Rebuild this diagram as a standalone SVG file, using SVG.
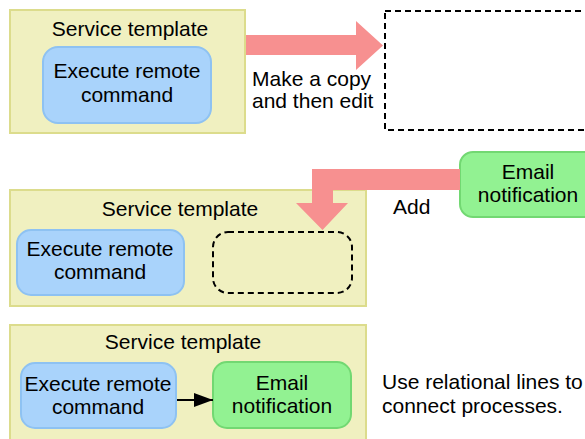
<svg xmlns="http://www.w3.org/2000/svg" width="585" height="439" viewBox="0 0 585 439">
<defs>
<style>
text{font-family:"Liberation Sans",Arial,sans-serif;font-size:21px;fill:#000;}
.tpl{fill:#f0f0c0;stroke:#dcdc8c;stroke-width:2;}
.blue{fill:#a9d3fb;stroke:#8ec2f2;stroke-width:2;}
.green{fill:#92f292;stroke:#72d872;stroke-width:2;}
.dash{fill:none;stroke:#000;stroke-width:2;stroke-dasharray:6,4;}
.big{fill:#f79090;}
.mid{text-anchor:middle;}
</style>
<marker id="ah" viewBox="0 0 19 14" refX="19" refY="7" markerWidth="19" markerHeight="14" markerUnits="userSpaceOnUse" orient="auto">
<path d="M0,0 L19,7 L0,14 z" fill="#000"/>
</marker>
</defs>
<rect width="585" height="439" fill="#fff"/>

<g id="template1">
<rect class="tpl" x="10" y="10" width="235" height="123"/>
<text class="mid" x="130" y="36">Service template</text>
</g>
<g id="exec1">
<rect class="blue" x="43" y="47" width="168" height="76" rx="15"/>
<text class="mid" x="127" y="78">Execute remote</text>
<text class="mid" x="127" y="102">command</text>
</g>
<g id="copy">
<rect class="dash" x="385" y="11" width="230" height="119"/>
</g>

<g id="email1">
<rect class="green" x="460" y="152" width="150" height="65" rx="13"/>
<text class="mid" x="528" y="179">Email</text>
<text class="mid" x="528" y="202">notification</text>
</g>

<g id="template2">
<rect class="tpl" x="10" y="190" width="356" height="116"/>
<text class="mid" x="180" y="216">Service template</text>
</g>
<g id="exec2">
<rect class="blue" x="17" y="230" width="167" height="65" rx="14"/>
<text class="mid" x="100" y="256">Execute remote</text>
<text class="mid" x="100" y="279">command</text>
</g>
<g id="placeholder">
<rect class="dash" x="213" y="232" width="139" height="61" rx="15"/>
</g>

<g id="template3">
<rect class="tpl" x="10" y="325" width="356" height="130"/>
<text class="mid" x="183" y="349">Service template</text>
</g>
<g id="exec3">
<rect class="blue" x="21" y="363" width="155" height="65" rx="14"/>
<text class="mid" x="98" y="391">Execute remote</text>
<text class="mid" x="98" y="414">command</text>
</g>
<g id="email3">
<rect class="green" x="213" y="362" width="138" height="66" rx="14"/>
<text class="mid" x="282" y="390">Email</text>
<text class="mid" x="282" y="413">notification</text>
</g>

<g id="connectors">
<polygon class="big" points="246,35 356,35 356,21 383,45.5 356,70 356,55 246,55"/>
<polygon class="big" points="460,169 312,169 312,203 296,203 322.5,230 348,203 333,203 333,190 460,190"/>
<line x1="177" y1="400" x2="213" y2="400" stroke="#000" stroke-width="2" marker-end="url(#ah)"/>
</g>

<g id="labels">
<text x="252" y="86">Make a copy</text>
<text x="252" y="108">and then edit</text>
<text x="393" y="214">Add</text>
<text x="382" y="389">Use relational lines to</text>
<text x="382" y="413">connect processes.</text>
</g>
</svg>
